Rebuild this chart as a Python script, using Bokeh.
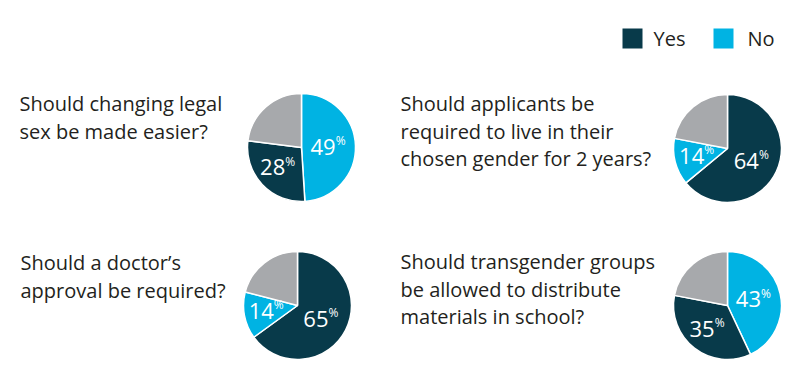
import math
from bokeh.plotting import figure
from bokeh.models import Range1d, ColumnDataSource
from bokeh.core.properties import value
from bokeh.embed import file_html
from bokeh.resources import INLINE

# ---- data ----
questions = [
    ["Should changing legal", "sex be made easier?"],
    ["Should applicants be", "required to live in their", "chosen gender for 2 years?"],
    ["Should a doctor\u2019s", "approval be required?"],
    ["Should transgender groups", "be allowed to distribute", "materials in school?"],
]
yes_pct = [28, 64, 65, 35]
no_pct = [49, 14, 14, 43]
first_slice = ["No", "Yes", "Yes", "No"]   # slice drawn first, clockwise from 12 o'clock
legend_labels = ["Yes", "No"]

# ---- style / layout ----
W, H = 784, 376
YES_C = "#083a4a"
NO_C = "#00b3e3"
GRAY_C = "#a7a9ac"
TXT_C = "#231f20"
FONT = "Open Sans"

pie_centers = [(301, 147), (727, 148), (297, 305), (727, 305)]
R = 54
text_left = [19, 400, 20, 400]
text_top = [103, 103, 262, 261]
line_h = 27.5

def Y(y_img):
    return 392 - y_img

p = figure(width=W, height=H, x_range=Range1d(0, W), y_range=Range1d(392 - H, 392),
           output_backend="svg", toolbar_location=None, min_border=0)
p.axis.visible = False
p.grid.visible = False
p.outline_line_color = None
p.background_fill_color = "white"
p.border_fill_color = "white"

wx, wy, ws, we, wc = [], [], [], [], []
num_x, num_y, num_t = [], [], []
pc_x, pc_y = [], []
for i in range(4):
    cx, cy = pie_centers[i]
    if first_slice[i] == "No":
        parts = [(no_pct[i], NO_C, True), (yes_pct[i], YES_C, True)]
    else:
        parts = [(yes_pct[i], YES_C, True), (no_pct[i], NO_C, True)]
    parts.append((100 - yes_pct[i] - no_pct[i], GRAY_C, False))
    cum = 0
    for val, col, lab in parts:
        a, b = cum / 100.0, (cum + val) / 100.0
        wx.append(cx); wy.append(Y(cy))
        ws.append(math.pi / 2 - 2 * math.pi * b)
        we.append(math.pi / 2 - 2 * math.pi * a)
        wc.append(col)
        if lab:
            m = (a + b) / 2 * 2 * math.pi
            lx = cx + 0.54 * R * math.sin(m)
            ly = cy - 0.54 * R * math.cos(m)
            num_x.append(lx + 5); num_y.append(Y(ly)); num_t.append(str(val))
            pc_x.append(lx + 5); pc_y.append(Y(ly) + 6)
        cum += val

p.wedge(x="x", y="y", radius=R, start_angle="s", end_angle="e", fill_color="c",
        line_color="white", line_width=1.5,
        source=ColumnDataSource(dict(x=wx, y=wy, s=ws, e=we, c=wc)))

p.text(x=num_x, y=num_y, text=num_t, text_color="white", text_font=value(FONT),
       text_font_size="22px", text_align="right", text_baseline="middle")
p.text(x=pc_x, y=pc_y, text=["%"] * len(pc_x), text_color="white", text_font=value(FONT),
       text_font_size="12px", text_align="left", text_baseline="middle")

qx, qy, qt = [], [], []
for i, lines in enumerate(questions):
    for j, ln in enumerate(lines):
        qx.append(text_left[i]); qy.append(Y(text_top[i] + j * line_h)); qt.append(ln)
p.text(x=qx, y=qy, text=qt, text_color=TXT_C, text_font=value(FONT),
       text_font_size="20px", text_align="left", text_baseline="middle")

# legend
sq_x = [632, 723]
lab_x = [653, 747]
p.rect(x=sq_x, y=[Y(38)] * 2, width=20, height=20, fill_color=[YES_C, NO_C], line_color=None)
p.text(x=lab_x, y=[Y(38)] * 2, text=legend_labels, text_color=TXT_C, text_font=value(FONT),
       text_font_size="20px", text_align="left", text_baseline="middle")

open("out.html", "w").write(file_html(p, INLINE))
